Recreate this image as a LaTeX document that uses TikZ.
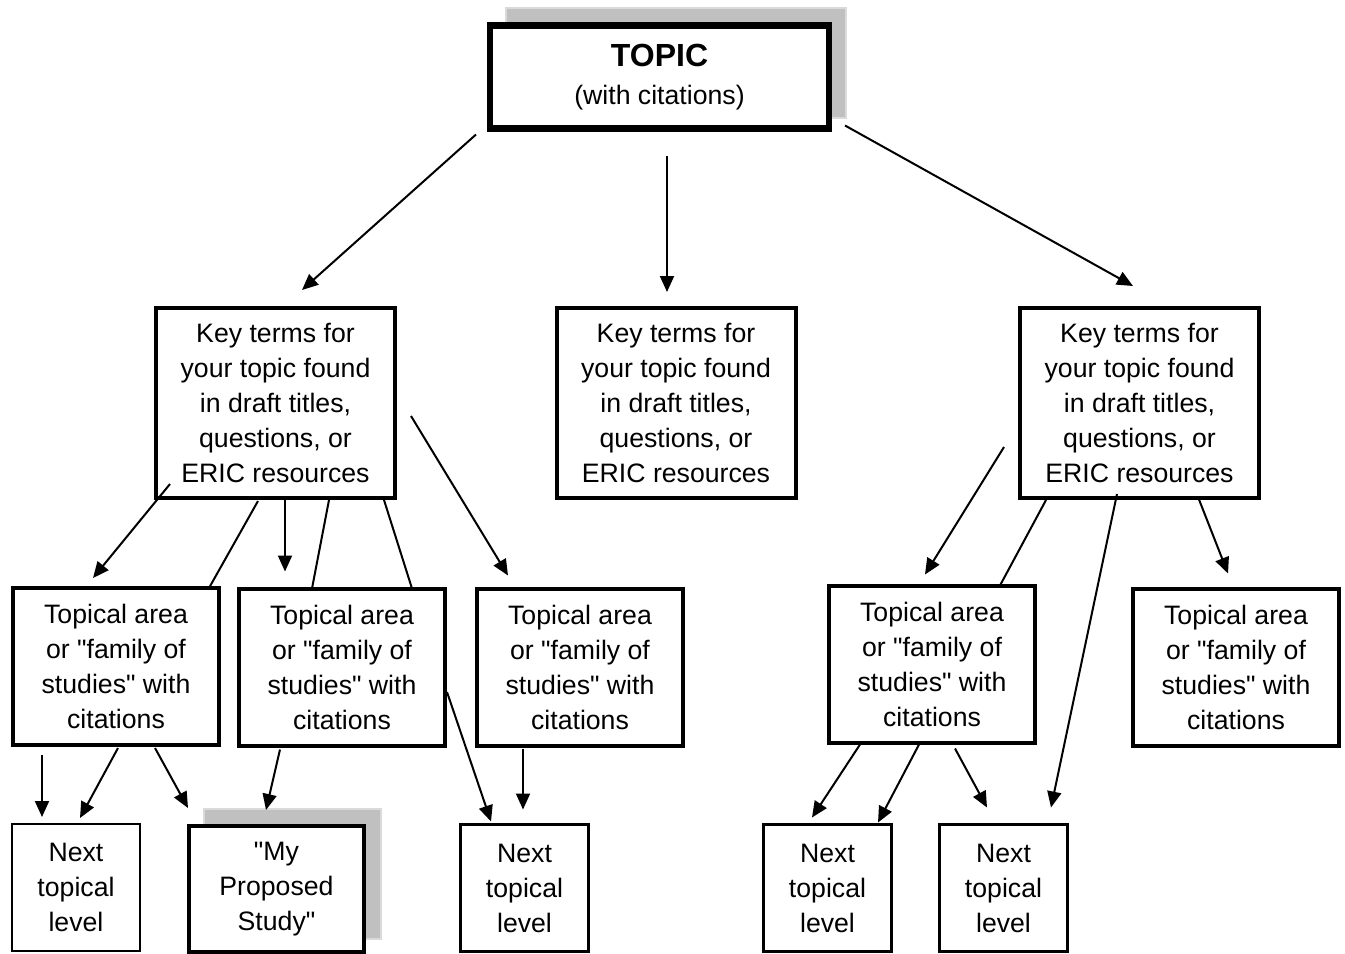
\documentclass[tikz,border=0pt]{standalone}
\usepackage{fontspec}
\setmainfont{Liberation Sans}[Ligatures=TeXOff]
\usetikzlibrary{arrows.meta,calc}
\definecolor{shadowgray}{HTML}{C0C0C0}
\definecolor{shadowedge}{HTML}{DADADA}
\newcommand{\dq}{\symbol{"22}}
\begin{document}
\begin{tikzpicture}[x=0.75pt,y=-0.75pt,
  box/.style={draw=black,rectangle,inner sep=0pt,outer sep=0pt,align=center,
    font=\fontsize{20}{26.25}\selectfont},
  keybox/.style={box,line width=3pt,minimum width=239*0.75pt,minimum height=190*0.75pt},
  areabox/.style={box,line width=3pt,minimum width=206*0.75pt,minimum height=157*0.75pt},
  nextbox/.style={box,line width=1.7pt,minimum width=128*0.75pt,minimum height=127*0.75pt},
  conn/.style={line width=1.5pt,draw=black},
  arr/.style={conn,-{Triangle[length=12pt,width=10.5pt]}},
  shadowbox/.style={fill=shadowgray,draw=shadowedge,line width=0.8pt}]
\useasboundingbox (0,0) rectangle (1345,953);
\fill[white] (0,0) rectangle (1345,953);
% shadows
\draw[shadowbox] (506,8) rectangle (846,118);
\draw[shadowbox] (204,809) rectangle (381,939);
% top
\node[box,fill=white,line width=5pt,minimum width=339*0.75pt,minimum height=103*0.75pt,
  font=\fontsize{20}{29}\selectfont] (topic) at (659.5,77)
  {{\fontsize{24}{29}\selectfont\bfseries TOPIC}\\(with citations)};
% key term boxes
\node[keybox] (k1) at (275.5,403) {Key terms for\\your topic found\\in draft titles,\\questions, or\\ERIC resources};
\node[keybox] (k2) at (676,403) {Key terms for\\your topic found\\in draft titles,\\questions, or\\ERIC resources};
\node[keybox] (k3) at (1139.5,403) {Key terms for\\your topic found\\in draft titles,\\questions, or\\ERIC resources};
% topical areas
\node[areabox] (t1) at (116,666.5) {Topical area\\or \dq family of\\studies\dq\ with\\citations};
\node[areabox] (t2) at (342,667) {Topical area\\or \dq family of\\studies\dq\ with\\citations};
\node[areabox] (t3) at (580,667) {Topical area\\or \dq family of\\studies\dq\ with\\citations};
\node[areabox] (t4) at (932,664) {Topical area\\or \dq family of\\studies\dq\ with\\citations};
\node[areabox] (t5) at (1236,667) {Topical area\\or \dq family of\\studies\dq\ with\\citations};
% next level
\node[nextbox] (n1) at (76,887.5) {Next\\topical\\level};
\node[box,fill=white,line width=3.4pt,minimum width=175*0.75pt,minimum height=126*0.75pt] (study) at (276.5,889) {\dq My\\Proposed\\Study\dq};
\node[nextbox] (n2) at (524.5,888) {Next\\topical\\level};
\node[nextbox] (n3) at (827.5,888) {Next\\topical\\level};
\node[nextbox] (n4) at (1003.5,888) {Next\\topical\\level};
% connectors from topic
\draw[arr] ($(topic.south west)+(-14,6)$) -- ($(k1.north)+(26.5,-18)$);
\draw[arr] ($(topic.south)+(7.5,27)$) -- ($(k2.north)+(-9,-16)$);
\draw[arr] ($(topic.south east)+(16,-3)$) -- ($(k3.north)+(-6.5,-22)$);
% from k1
\draw[arr] ($(k1.south west)+(14,-14)$) -- ($(t1.north)+(-23,-10)$);
\draw[conn] ($(k1.south)+(-17.5,3)$) -- ($(t1.north)+(93,0)$);
\draw[arr] ($(k1.south)+(9.5,0)$) -- ($(t2.north)+(-57,-17)$);
\draw[conn] ($(k1.south)+(53.5,2)$) -- ($(t2.north)+(-30,0)$);
\draw[conn] ($(k1.south)+(108.5,2)$) -- ($(t2.north)+(70,0)$);
\draw[arr] ($(k1.east)+(16,13)$) -- ($(t3.north)+(-72,-13)$);
% from t1
\draw[arr] ($(t1.south)+(-74,10)$) -- ($(n1.north)+(-34,-7)$);
\draw[arr] ($(t1.south)+(2,3)$) -- ($(n1.north)+(4,-6)$);
\draw[arr] ($(t1.south)+(39,3)$) -- ($(study.north)+(-88.5,-18)$);
% from t2
\draw[arr] ($(t2.south)+(-62,4)$) -- ($(study.north)+(-10.5,-16)$);
\draw[arr] ($(t2.east)+(2,25)$) -- ($(n2.north)+(-33.5,-3)$);
% from t3
\draw[arr] ($(t3.south)+(-57,3)$) -- ($(n2.north)+(-1.5,-15)$);
% from k3
\draw[arr] ($(k3.west)+(-16,44)$) -- ($(t4.north)+(-7,-11)$);
\draw[conn] ($(k3.south)+(-93.5,2)$) -- ($(t4.north)+(68,0)$);
\draw[arr] ($(k3.south)+(-22.5,-4)$) -- ($(n4.north)+(47.5,-17)$);
\draw[arr] ($(k3.south)+(58.5,-1)$) -- ($(t5.north)+(-8,-15)$);
% from t4
\draw[arr] ($(t4.south)+(-72,2)$) -- ($(n3.north)+(-15.5,-7)$);
\draw[arr] ($(t4.south)+(-13,2)$) -- ($(n3.north)+(50.5,-2)$);
\draw[arr] ($(t4.south)+(23,6)$) -- ($(n4.north)+(-16.5,-17)$);
\end{tikzpicture}
\end{document}
